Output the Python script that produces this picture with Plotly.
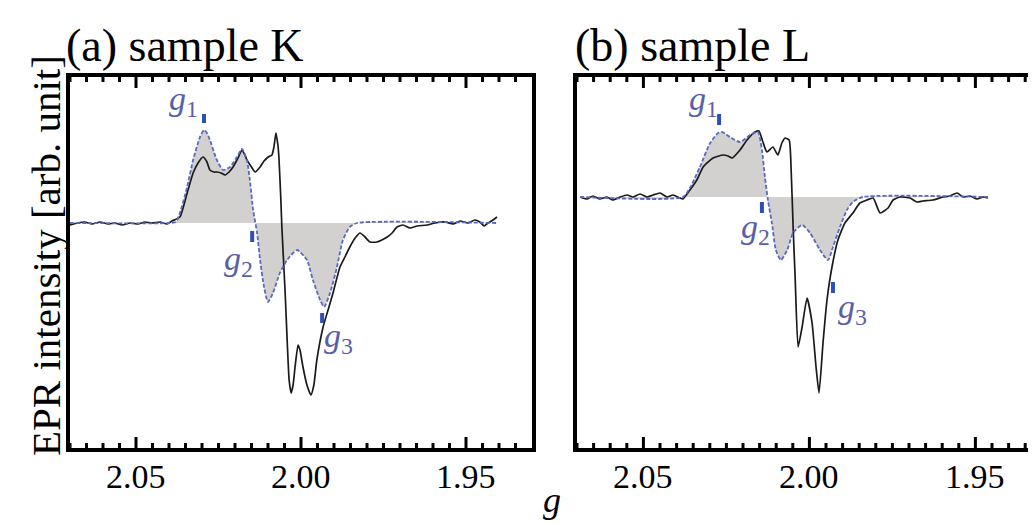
import plotly.graph_objects as go

# ---------------- data: panel (a) sample K ----------------
gK_exp = [2.0700, 2.0676, 2.0655, 2.0633, 2.0609, 2.0585, 2.0564, 2.0542, 2.0518, 2.0494,
          2.0473, 2.0452, 2.0427, 2.0406, 2.0391, 2.0367, 2.0345, 2.0327, 2.0312, 2.0297,
          2.0285, 2.0276, 2.0264, 2.0255, 2.0242, 2.0230, 2.0218, 2.0206, 2.0191, 2.0179,
          2.0170, 2.0164, 2.0152, 2.0139, 2.0124, 2.0112, 2.0103, 2.0094, 2.0088, 2.0082,
          2.0076, 2.0070, 2.0067, 2.0061, 2.0058, 2.0048, 2.0042, 2.0036, 2.0030, 2.0024,
          2.0018, 2.0009, 2.0003, 1.9994, 1.9982, 1.9970, 1.9961, 1.9952, 1.9933, 1.9918,
          1.9903, 1.9882, 1.9867, 1.9852, 1.9836, 1.9821, 1.9806, 1.9791, 1.9770, 1.9755,
          1.9739, 1.9724, 1.9709, 1.9691, 1.9670, 1.9648, 1.9618, 1.9594, 1.9564, 1.9539,
          1.9518, 1.9494, 1.9473, 1.9458, 1.9445, 1.9433, 1.9418, 1.9406]
iK_exp = [-2, 0, 1, -1, 1, -1, 0, -2, 0, -1,
          1, 0, 1, -1, 2, 6, 30, 50, 60, 66,
          61, 53, 51, 51, 50, 48, 51, 56, 65, 73,
          68, 63, 57, 51, 56, 62, 65, 67, 68, 76,
          90, 78, 66, 23, -4, -70, -117, -157, -170, -162,
          -144, -122, -127, -144, -162, -172, -162, -137, -104, -87,
          -70, -44, -34, -24, -15, -10, -14, -19, -19, -17,
          -14, -10, -4, -2, -5, -3, -2, 0, 1, -1,
          2, 0, 3, 1, -3, 0, 3, 6]

gK_sim = [2.0700, 2.0397, 2.0379, 2.0367, 2.0345, 2.0327, 2.0306, 2.0294, 2.0285, 2.0276,
          2.0255, 2.0236, 2.0215, 2.0194, 2.0179, 2.0164, 2.0155, 2.0145, 2.0133, 2.0124,
          2.0112, 2.0100, 2.0085, 2.0064, 2.0042, 2.0012, 1.9982, 1.9964, 1.9942, 1.9930,
          1.9912, 1.9891, 1.9873, 1.9852, 1.9830, 1.9406]
iK_sim = [0, 0, 1, 10, 36, 63, 86, 93, 90, 83,
          63, 53, 56, 66, 74, 63, 43, 13, -10, -37,
          -64, -79, -70, -50, -37, -27, -37, -57, -77, -84,
          -70, -44, -17, -4, 0, 0]

gK_marks = [2.0294, 2.0148, 1.9936]

# ---------------- data: panel (b) sample L ----------------
gL_exp = [2.0691, 2.0670, 2.0652, 2.0631, 2.0610, 2.0592, 2.0570, 2.0549, 2.0531, 2.0510,
          2.0489, 2.0471, 2.0450, 2.0429, 2.0411, 2.0390, 2.0381, 2.0360, 2.0339, 2.0320,
          2.0290, 2.0260, 2.0245, 2.0233, 2.0209, 2.0188, 2.0164, 2.0152, 2.0140, 2.0128,
          2.0110, 2.0095, 2.0083, 2.0073, 2.0061, 2.0055, 2.0049, 2.0043, 2.0034, 2.0022,
          2.0007, 1.9992, 1.9980, 1.9971, 1.9959, 1.9947, 1.9932, 1.9914, 1.9893, 1.9869,
          1.9848, 1.9827, 1.9808, 1.9787, 1.9763, 1.9748, 1.9727, 1.9697, 1.9676, 1.9658,
          1.9628, 1.9598, 1.9577, 1.9555, 1.9537, 1.9516, 1.9495, 1.9477, 1.9462]
iL_exp = [0, -2, 1, -2, 0, -3, 0, 2, 0, 3,
          0, 2, 4, 0, 2, -1, -2, 7, 17, 30,
          39, 42, 41, 39, 47, 57, 65, 66, 55, 45,
          50, 42, 54, 59, 57, 27, -30, -80, -150, -130,
          -101, -126, -170, -196, -146, -103, -70, -43, -26, -16,
          -6, -3, -1, -16, -11, -3, 0, -1, -5, -4,
          -3, 0, 1, 4, 0, 1, -2, 0, -1]

gL_sim = [2.0691, 2.0381, 2.0360, 2.0330, 2.0299, 2.0275, 2.0263, 2.0239, 2.0209, 2.0179,
          2.0155, 2.0143, 2.0134, 2.0125, 2.0113, 2.0101, 2.0086, 2.0067, 2.0049, 2.0022,
          1.9998, 1.9968, 1.9944, 1.9929, 1.9908, 1.9887, 1.9869, 1.9839, 1.9462]
iL_sim = [0, 0, 9, 30, 54, 64, 65, 60, 55, 62,
          65, 47, 20, -3, -26, -53, -63, -53, -36, -28,
          -36, -53, -63, -50, -30, -13, -5, 0, 0]

gL_marks = [2.0272, 2.0143, 1.9929]

titles = ["(a) sample K", "(b) sample L"]
tick_vals = [2.05, 2.00, 1.95]
tick_text = ["2.05", "2.00", "1.95"]
minor_step = 0.005

# ---------------- styling ----------------
OFF = 8                      # default body margin of the html page
W, H = 1036 - OFF, 523 - OFF
SERIF = "Liberation Serif, Times New Roman, serif"
BLACK = "#1a1a1a"
BLUE = "#5a68c0"
BAR = "#2f4fb8"
LABEL = "#5a5ea8"
FILL = "#d3d0d0"
FRAME_H = 448 - 77           # plot height in px
MAJ_LEN, MIN_LEN = 11, 5


def px_x(p):
    return (p - OFF) / W


def px_y(p):
    return 1 - (p - OFF) / H


panels = [
    dict(xa="x", ya="y", ge=gK_exp, ie=iK_exp, gs=gK_sim, is_=iK_sim, gm=gK_marks,
         xdom=[px_x(70), px_x(532)], xr=[2.07, 1.93], yr=[-225, 146],
         bars=[(100, 109), (-8, -19), (-90, -100)],
         labs=[(2.0356, 122), (2.0188, -38), (1.9886, -115)], mirror_y=True,
         title_x=64),
    dict(xa="x2", ya="y2", ge=gL_exp, ie=iL_exp, gs=gL_sim, is_=iL_sim, gm=gL_marks,
         xdom=[px_x(577), 1.0], xr=[2.07, 2.07 - (1036 - 577) / 3320], yr=[-251, 120],
         bars=[(72, 83), (-5, -16), (-85, -96)],
         labs=[(2.0318, 96), (2.0162, -32), (1.9870, -112)], mirror_y=False,
         title_x=573),
]

fig = go.Figure()
annotations = []
shapes = []
layout = {}
ydom = [px_y(448), px_y(77)]

for k, p in enumerate(panels):
    # fill under simulation
    fig.add_trace(go.Scatter(x=p["gs"], y=p["is_"], mode="lines", fill="tozeroy",
                             fillcolor=FILL, line=dict(width=0, shape="spline", smoothing=0.6),
                             xaxis=p["xa"], yaxis=p["ya"], hoverinfo="skip", showlegend=False))
    # experimental
    fig.add_trace(go.Scatter(x=p["ge"], y=p["ie"], mode="lines",
                             line=dict(color=BLACK, width=1.7, shape="spline", smoothing=0.5),
                             xaxis=p["xa"], yaxis=p["ya"], showlegend=False))
    # simulation
    fig.add_trace(go.Scatter(x=p["gs"], y=p["is_"], mode="lines",
                             line=dict(color=BLUE, width=1.8, dash="4px,2px", shape="spline", smoothing=0.6),
                             xaxis=p["xa"], yaxis=p["ya"], showlegend=False))
    # g markers
    for j, g in enumerate(p["gm"]):
        y0, y1 = p["bars"][j]
        fig.add_trace(go.Scatter(x=[g, g], y=[y0, y1], mode="lines",
                                 line=dict(color=BAR, width=4),
                                 xaxis=p["xa"], yaxis=p["ya"], showlegend=False))
        lx, ly = p["labs"][j]
        annotations.append(dict(x=lx, y=ly, xref=p["xa"], yref=p["ya"],
                                text=f"<i>g</i><sub>{j+1}</sub>", showarrow=False,
                                font=dict(family=SERIF, size=34, color=LABEL),
                                xanchor="center", yanchor="middle"))
    # tick labels
    for tv, tt in zip(tick_vals, tick_text):
        annotations.append(dict(x=tv, y=px_y(476), xref=p["xa"], yref="paper",
                                text=tt, showarrow=False, xanchor="center", yanchor="middle",
                                font=dict(family=SERIF, size=34, color="black")))
    annotations.append(dict(x=px_x(p["title_x"]), y=px_y(45), xref="paper", yref="paper",
                            text=titles[k], showarrow=False, xanchor="left", yanchor="middle",
                            font=dict(family=SERIF, size=46, color="black")))

    # inward ticks along top and bottom frame (major + minor), in paper y units
    lo, hi = min(p["xr"]), max(p["xr"])
    n0 = int(round(lo / minor_step)) + 1
    n1 = int(round(hi / minor_step))
    for n in range(n0, n1 + 1):
        g = n * minor_step
        major = any(abs(g - tv) < 1e-6 for tv in tick_vals)
        ln = MAJ_LEN if major else MIN_LEN
        for edge, tip in ((448, 448 - ln), (77, 77 + ln)):
            shapes.append(dict(type="line", xref=p["xa"], yref="paper",
                               x0=g, x1=g, y0=px_y(edge), y1=px_y(tip),
                               line=dict(color="black", width=3), layer="above"))

    suffix = "" if k == 0 else "2"
    layout["xaxis" + suffix] = dict(
        domain=p["xdom"], range=p["xr"], anchor="y" + suffix,
        showline=True, linecolor="black", linewidth=4, mirror=True,
        ticks="", showticklabels=False,
        showgrid=False, zeroline=False, automargin=False)
    layout["yaxis" + suffix] = dict(
        domain=ydom, range=p["yr"], anchor="x" + suffix,
        showline=True, linecolor="black", linewidth=4, mirror=p["mirror_y"],
        ticks="", showticklabels=False, showgrid=False, zeroline=False, automargin=False)

annotations.append(dict(x=px_x(46), y=px_y(256), xref="paper", yref="paper",
                        text="EPR intensity [arb. unit]", showarrow=False, textangle=-90,
                        xanchor="center", yanchor="middle",
                        font=dict(family=SERIF, size=41, color="black")))
annotations.append(dict(x=px_x(552), y=px_y(500), xref="paper", yref="paper",
                        text="<i>g</i>", showarrow=False, xanchor="center", yanchor="middle",
                        font=dict(family=SERIF, size=36, color="black")))

fig.update_layout(width=W, height=H, margin=dict(l=0, r=0, t=0, b=0),
                  paper_bgcolor="white", plot_bgcolor="white",
                  annotations=annotations, shapes=shapes, **layout)

fig.write_html("out.html")
